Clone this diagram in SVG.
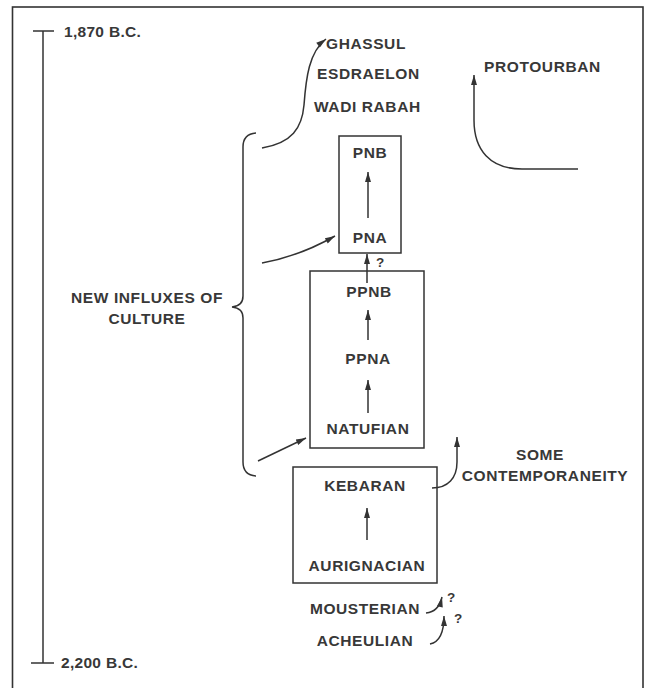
<svg xmlns="http://www.w3.org/2000/svg" width="646" height="688" viewBox="0 0 646 688">
<style>
.t{font-family:"Liberation Sans",Arial,sans-serif;font-weight:bold;font-size:15.5px;letter-spacing:0.6px;fill:#383838}
.d{letter-spacing:0.3px}
.q{font-size:13.5px;letter-spacing:0}
.m{text-anchor:middle}
.ln{fill:none;stroke:#333;stroke-width:1.5}
.ar{fill:none;stroke:#333;stroke-width:1.5;marker-end:url(#ah)}
.bx{fill:none;stroke:#333;stroke-width:1.5}
</style>
<defs>
<marker id="ah" viewBox="0 0 10 6" refX="10" refY="3" markerWidth="12" markerHeight="6" markerUnits="userSpaceOnUse" orient="auto">
<path d="M0,0 L10,3 L0,6 z" fill="#333"/>
</marker>
</defs>
<rect width="646" height="688" fill="#fff"/>
<rect x="12.5" y="7" width="630.5" height="700" fill="none" stroke="#333" stroke-width="1.6"/>
<g id="timeline">
<path class="ln" d="M43,31 V663 M33,31 H54 M31,663 H54"/>
<text class="t d" x="64" y="37">1,870 B.C.</text>
<text class="t d" x="61" y="668">2,200 B.C.</text>
</g>
<g id="late-cultures">
<text class="t" x="326" y="49">GHASSUL</text>
<text class="t" x="317" y="79">ESDRAELON</text>
<text class="t" x="314" y="112">WADI RABAH</text>
</g>
<g id="protourban">
<text class="t" x="484" y="72">PROTOURBAN</text>
</g>
<g id="influxes">
<path class="ln" d="M256,133 Q243,134 243,147 L243,296 Q243,306 232,307 Q243,308 243,318 L243,462 Q243,475 256,476"/>
<text class="t m" x="147" y="303">NEW INFLUXES OF</text>
<text class="t m" x="147" y="324">CULTURE</text>
</g>
<g id="pottery-neolithic">
<rect class="bx" x="339" y="136" width="62" height="117"/>
<text class="t m" x="370" y="158">PNB</text>
<text class="t m" x="370" y="243">PNA</text>
</g>
<g id="prepottery">
<rect class="bx" x="310" y="271" width="114" height="177"/>
<text class="t m" x="369" y="297">PPNB</text>
<text class="t m" x="368" y="364">PPNA</text>
<text class="t m" x="368" y="434">NATUFIAN</text>
</g>
<g id="palaeolithic">
<rect class="bx" x="293" y="467" width="144" height="116"/>
<text class="t m" x="365" y="491">KEBARAN</text>
<text class="t m" x="367" y="571">AURIGNACIAN</text>
</g>
<g id="contemporaneity">
<text class="t m" x="540" y="460">SOME</text>
<text class="t m" x="545" y="481">CONTEMPORANEITY</text>
</g>
<g id="mousterian">
<text class="t m" x="365" y="614">MOUSTERIAN</text>
<text class="t q" x="447" y="602">?</text>
</g>
<g id="acheulian">
<text class="t m" x="365" y="646">ACHEULIAN</text>
<text class="t q" x="454" y="623">?</text>
</g>
<g id="connectors">
<path class="ar" d="M262,148 C292,143 302,128 304,105 C306,78 309,52 326,39"/>
<path class="ar" d="M578,169 L522,169 C490,169 474,150 474,120 L474,75"/>
<path class="ar" d="M368,218 V172"/>
<path class="ar" d="M262,263 Q300,256 335,236"/>
<path class="ar" d="M367,283 V254"/>
<text class="t q" x="376" y="267">?</text>
<path class="ar" d="M368,340 V310"/>
<path class="ar" d="M368,413 V380"/>
<path class="ar" d="M258,461 L306,438"/>
<path class="ar" d="M367,540 V508"/>
<path class="ar" d="M432,488 C448,488 457,478 457,462 L457,437"/>
<path class="ar" d="M426,613 C436,612 440,606 442,597"/>
<path class="ar" d="M430,644 C440,642 444,632 444,616"/>
</g>
</svg>
